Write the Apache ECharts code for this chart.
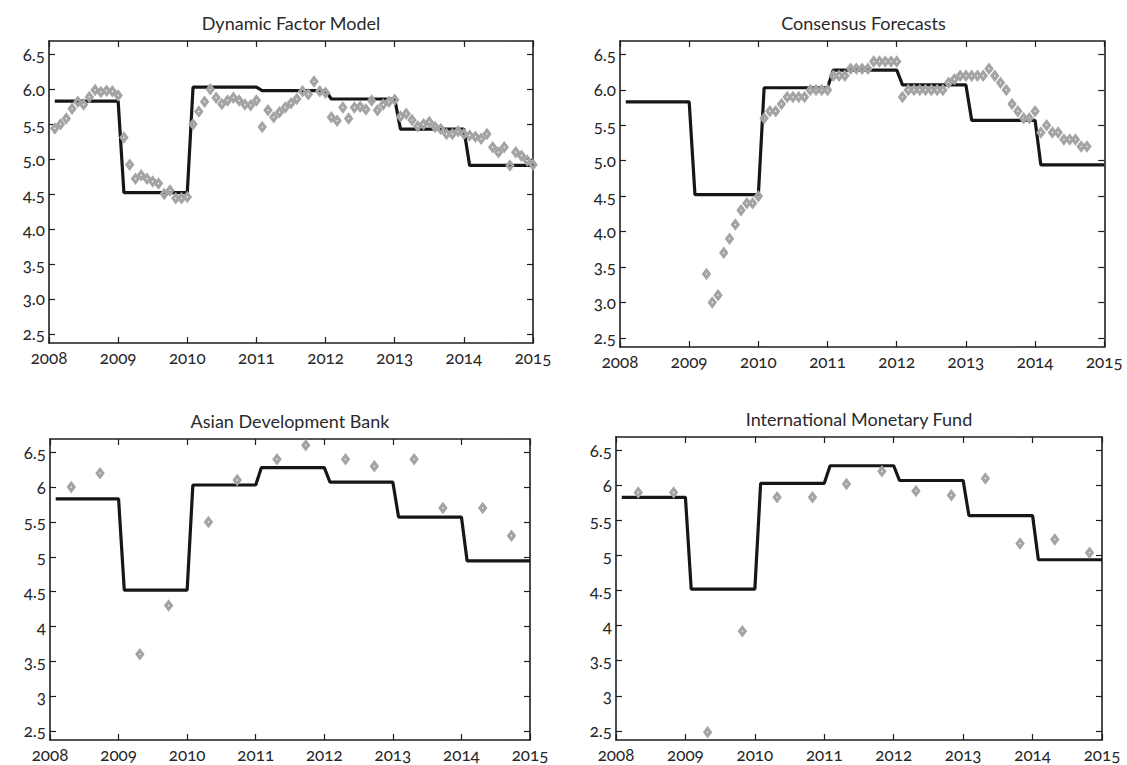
<!DOCTYPE html>
<html><head><meta charset="utf-8">
<style>
html,body{margin:0;padding:0;background:#fff;}
#c{width:1127px;height:765px;}
#c text{font-variant-numeric: oldstyle-nums !important; font-feature-settings:"onum" 1 !important;}
</style>
<script src="https://cdn.jsdelivr.net/npm/echarts@6/dist/echarts.min.js"></script>
</head><body><div id="c"></div>
<script>
// ---------------- data ----------------
const years = [2008, 2009, 2010, 2011, 2012, 2013, 2014, 2015];
const yTicks = [2.5, 3, 3.5, 4, 4.5, 5, 5.5, 6, 6.5];
const titles = ['Dynamic Factor Model', 'Consensus Forecasts', 'Asian Development Bank', 'International Monetary Fund'];

// annual actual growth (step line), one value per year 2008..2014
const actualDfm = [5.83, 4.52, 6.03, 5.98, 5.86, 5.43, 4.91];
const actual = [5.83, 4.52, 6.03, 6.28, 6.07, 5.57, 4.94];

// monthly forecasts, first value = Feb 2008 (month index 1)
const dfmStartMonth = 1;
const dfm = [
  5.44, 5.50, 5.58, 5.72, 5.82, 5.78, 5.89, 5.99, 5.96, 5.98, 5.97, 5.91,
  5.31, 4.92, 4.72, 4.77, 4.72, 4.68, 4.65, 4.50, 4.55, 4.44, 4.44, 4.46,
  5.50, 5.68, 5.82, 6.00, 5.88, 5.79, 5.84, 5.88, 5.84, 5.78, 5.77, 5.84,
  5.46, 5.70, 5.60, 5.67, 5.74, 5.80, 5.86, 5.97, 5.93, 6.11, 5.97, 5.95,
  5.60, 5.55, 5.74, 5.58, 5.74, 5.75, 5.71, 5.84, 5.70, 5.78, 5.82, 5.85,
  5.61, 5.65, 5.56, 5.47, 5.50, 5.53, 5.46, 5.43, 5.36, 5.36, 5.40, 5.36,
  5.34, 5.32, 5.29, 5.36, 5.17, 5.10, 5.17, 4.91, 5.10, 5.05, 4.98, 4.92
];
const consensusStartMonth = 15;
const consensus = [
  3.40, 3.00, 3.10, 3.70, 3.90, 4.10, 4.30, 4.40, 4.40, 4.50,
  5.60, 5.70, 5.70, 5.80, 5.90, 5.90, 5.90, 5.90, 6.00, 6.00, 6.00, 6.00,
  6.20, 6.20, 6.20, 6.30, 6.30, 6.30, 6.30, 6.40, 6.40, 6.40, 6.40, 6.40,
  5.90, 6.00, 6.00, 6.00, 6.00, 6.00, 6.00, 6.00, 6.10, 6.15, 6.20, 6.20,
  6.20, 6.20, 6.20, 6.30, 6.20, 6.10, 6.00, 5.80, 5.70, 5.60, 5.60, 5.70,
  5.40, 5.50, 5.40, 5.40, 5.30, 5.30, 5.30, 5.20, 5.20
];
const adbDates = [2008.31, 2008.73, 2009.31, 2009.73, 2010.31, 2010.73, 2011.31, 2011.73, 2012.31, 2012.73, 2013.31, 2013.73, 2014.31, 2014.73];
const adb = [6.0, 6.2, 3.6, 4.3, 5.5, 6.1, 6.4, 6.6, 6.4, 6.3, 6.4, 5.7, 5.7, 5.3];
const imfDates = [2008.32, 2008.83, 2009.32, 2009.82, 2010.32, 2010.83, 2011.32, 2011.83, 2012.32, 2012.83, 2013.32, 2013.82, 2014.32, 2014.82];
const imf = [5.9, 5.9, 2.48, 3.92, 5.83, 5.83, 6.02, 6.2, 5.92, 5.86, 6.1, 5.17, 5.23, 5.04];

// ---------------- build ----------------
function stepLine(vals) {
  const pts = [];
  vals.forEach((v, i) => {
    pts.push([years[i] + 1 / 12, v]);
    pts.push([years[i + 1], v]);
  });
  return pts;
}
function monthly(start, vals) {
  return vals.map((v, i) => [years[0] + (start + i) / 12, v]);
}
function paired(dates, vals) { return dates.map((d, i) => [d, vals[i]]); }

const lines = [actualDfm, actual, actual, actual];
const fcs = [monthly(dfmStartMonth, dfm), monthly(consensusStartMonth, consensus), paired(adbDates, adb), paired(imfDates, imf)];
const rects = [
  {left: 49, top: 41, width: 484, height: 302},
  {left: 620, top: 41, width: 487, height: 306},
  {left: 50, top: 439, width: 480, height: 301},
  {left: 616, top: 437, width: 486, height: 303}
];
const titleY = [23, 23, 421, 419];
const FONT = 'Lato, "Open Sans", sans-serif';
const AX = '#1e1e1e';
const diamond = 'path://M0,-6 L4.5,0 L0,6 L-4.5,0 Z M0,-1 L-0.8,0 L0,1 L0.8,0 Z';

const grid = [], xAxis = [], yAxis = [], series = [];
rects.forEach((r, i) => {
  grid.push(Object.assign({show: false, containLabel: false}, r));
  const tick = {show: true, inside: true, length: 6, lineStyle: {color: AX, width: 1.2}};
  const line = {show: true, onZero: false, lineStyle: {color: AX, width: 1.6}};
  xAxis.push({type: 'value', gridIndex: i, min: years[0], max: years[years.length - 1], interval: 1,
    axisLine: line, axisTick: tick, splitLine: {show: false},
    axisLabel: {show: true, margin: 6, fontFamily: FONT, fontSize: 17, color: '#262626', showMinLabel: true, showMaxLabel: true,
      formatter: v => String(v)}});
  xAxis.push({type: 'value', gridIndex: i, position: 'top', min: years[0], max: years[years.length - 1], interval: 1,
    axisLine: line, axisTick: tick, splitLine: {show: false}, axisLabel: {show: false}});
  const top = i < 2;
  yAxis.push({type: 'value', gridIndex: i, min: 2.37, max: 6.69,
    axisLine: line, axisTick: Object.assign({customValues: yTicks}, tick), splitLine: {show: false},
    axisLabel: {show: true, customValues: yTicks, margin: 4, fontFamily: FONT, fontSize: 17, color: '#262626',
      formatter: v => top ? Number(v).toFixed(1) : String(v)}});
  yAxis.push({type: 'value', gridIndex: i, position: 'right', min: 2.37, max: 6.69,
    axisLine: line, axisTick: Object.assign({customValues: yTicks}, tick), splitLine: {show: false},
    axisLabel: {show: false}});
  series.push({type: 'line', xAxisIndex: 2 * i, yAxisIndex: 2 * i, data: stepLine(lines[i]), showSymbol: false,
    lineStyle: {color: '#161616', width: 3.2}, z: 2, silent: true, animation: false});
  series.push({type: 'scatter', xAxisIndex: 2 * i, yAxisIndex: 2 * i, data: fcs[i], symbol: diamond, symbolSize: [9.5, 12.5],
    itemStyle: {color: '#a4a4a4', opacity: 1}, z: 3, silent: true, animation: false});
});

const graphic = rects.map((r, i) => ({type: 'text', x: r.left + r.width / 2, y: titleY[i],
  style: {text: titles[i], fontFamily: FONT, fontSize: 18, fill: '#2a2a2a', align: 'center', verticalAlign: 'middle'}}));

const chart = echarts.init(document.getElementById('c'), null, {renderer: 'svg', width: 1127, height: 765});
chart.setOption({animation: false, backgroundColor: '#fff', grid, xAxis, yAxis, series, graphic});
</script></body></html>
